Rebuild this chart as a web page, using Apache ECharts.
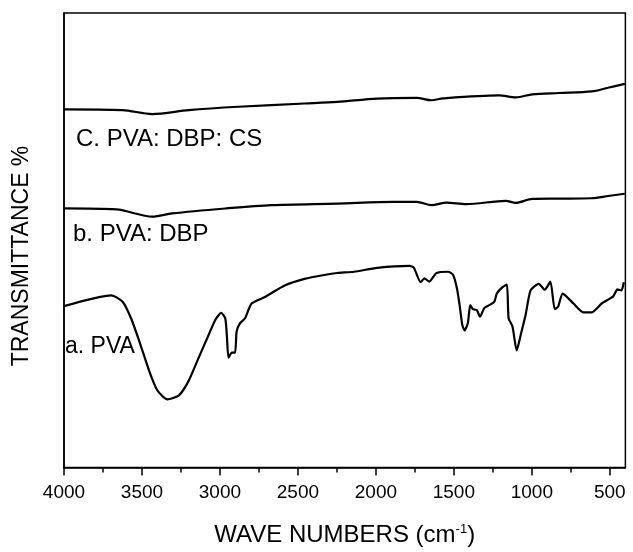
<!DOCTYPE html>
<html>
<head>
<meta charset="utf-8">
<script src="https://cdn.jsdelivr.net/npm/echarts@6/dist/echarts.min.js"></script>
<style>html,body{margin:0;padding:0;background:#fff}#c{width:633px;height:552px}</style>
</head>
<body>
<div id="c"></div>
<script>
// Wavenumbers (cm-1) and transmittance (arbitrary offset units)
const waveA = [4000,3697,3623,3570,3517,3454,3401,3337,3263,3200,3136,3072,3030,2992,2966,2956,2945,2924,2903,2893,2871,2839,2797,2712,2585,2458,2331,2247,2140,1992,1783,1757,1713,1689,1658,1611,1537,1505,1480,1463,1446,1431,1410,1395,1378,1353,1332,1304,1273,1241,1224,1188,1160,1149,1124,1097,1071,1040,1008,955,917,881,853,832,802,733,669,616,552,478,451,425,410];
const valA  = [164,175,168.3,151.7,128.3,98.3,78.3,69.3,73.3,88.3,111.7,135,150,157.3,151.7,135,111.7,116.7,116.7,138.3,146.7,151.7,166.7,173.3,185,191.7,195.7,197.7,199,203,205,203.3,188.3,192.3,189,197.7,199,196,182,165,145,139.3,147,165,161,160,153.3,162.3,165,168.3,177,183.3,186,151.7,143.3,119,135,155,180,186.7,180.7,189,161,163.3,176.7,166.7,157.7,157.7,166.7,174,181,180,188.3];
const waveB = [4000,3665,3433,3307,2966,2670,2247,1886,1738,1643,1548,1421,1167,1103,997,828,616,510,404];
const valB  = [263.3,262.3,255,258.3,263.3,266.7,268.3,270,270,266.7,269.3,267.7,271,269,273,273.3,273.7,276,278.3];
const waveC = [4000,3625,3435,3200,2882,2458,2247,1992,1738,1643,1569,1211,1103,997,828,616,512,404];
const valC  = [364,363.3,359.3,363.3,366.7,370,371.7,375,375.7,373.3,375.3,378.3,376.3,379.3,380.7,382.3,386,390];
const majorTicks = [4000,3500,3000,2500,2000,1500,1000,500];
const minorTicks = [3750,3250,2750,2250,1750,1250,750];
const seriesLabels = ['a. PVA','b. PVA: DBP','C. PVA: DBP: CS'];
const yTitle = 'TRANSMITTANCE %';

const zip = (w, v) => w.map((x, i) => [x, v[i]]);
const FONT = 'Liberation Sans, Arial, sans-serif';
const chart = echarts.init(document.getElementById('c'), null, {renderer: 'canvas'});
const lineStyle = {color: '#000', width: 2.2};
chart.setOption({
  animation: false,
  backgroundColor: '#fff',
  grid: {left: 64, right: 3, top: 13, bottom: 77, show: true, borderColor: '#000', borderWidth: 1.5, containLabel: false},
  xAxis: [{
    type: 'value', inverse: true, min: 400, max: 4000, position: 'bottom',
    axisLine: {show: true, lineStyle: {color: '#000', width: 1.5}},
    axisTick: {show: true, inside: false, length: 8, customValues: majorTicks, lineStyle: {color: '#000', width: 1.5}},
    axisLabel: {show: true, customValues: majorTicks, color: '#000', fontSize: 19, fontFamily: FONT, margin: 16,
      formatter: v => String(v)},
    splitLine: {show: false},
    name: 'WAVE NUMBERS (cm{sup|-1})', nameLocation: 'middle', nameGap: 55,
    nameTextStyle: {color: '#000', fontSize: 24, fontFamily: FONT,
      rich: {sup: {fontSize: 13, fontFamily: FONT, color: '#000', verticalAlign: 'top', padding: [0, 0, 12, 0]}}}
  }, {
    type: 'value', inverse: true, min: 400, max: 4000, position: 'bottom',
    axisLine: {show: false},
    axisTick: {show: true, inside: false, length: 5, customValues: minorTicks, lineStyle: {color: '#000', width: 1.5}},
    axisLabel: {show: false},
    splitLine: {show: false}
  }],
  yAxis: {
    type: 'value', min: 0, max: 462,
    axisLine: {show: true, lineStyle: {color: '#000', width: 1.5}},
    axisTick: {show: false}, axisLabel: {show: false}, splitLine: {show: false}
  },
  series: [
    {type: 'line', name: seriesLabels[0], data: zip(waveA, valA), showSymbol: false, smooth: 0.2, lineStyle},
    {type: 'line', name: seriesLabels[1], data: zip(waveB, valB), showSymbol: false, smooth: 0.3, lineStyle},
    {type: 'line', name: seriesLabels[2], data: zip(waveC, valC), showSymbol: false, smooth: 0.3, lineStyle}
  ],
  graphic: [
    {type: 'text', x: 22, y: 256, rotation: Math.PI / 2,
      style: {text: yTitle, fontSize: 23, fontFamily: FONT, fill: '#000', align: 'center', verticalAlign: 'middle'}},
    {type: 'text', left: 76, top: 127, style: {text: seriesLabels[2], fontSize: 24, fontFamily: FONT, fill: '#000'}},
    {type: 'text', left: 73, top: 222, style: {text: seriesLabels[1], fontSize: 24, fontFamily: FONT, fill: '#000'}},
    {type: 'text', left: 65, top: 335, style: {text: seriesLabels[0], fontSize: 23, fontFamily: FONT, fill: '#000'}}
  ]
});
</script>
</body>
</html>
